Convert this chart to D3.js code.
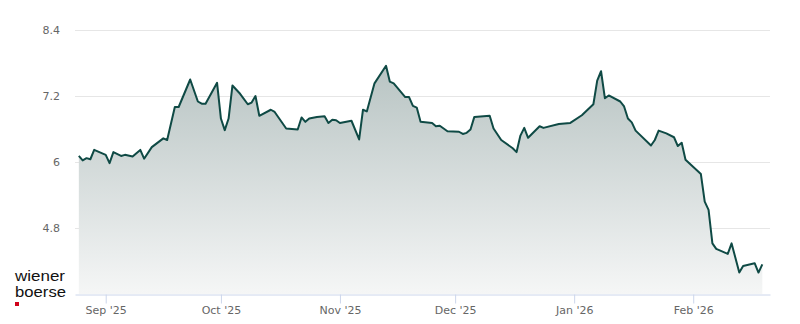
<!DOCTYPE html>
<html>
<head>
<meta charset="utf-8">
<script src="https://cdn.jsdelivr.net/npm/d3@7"></script>
<style>
  body { margin: 0; background: #fff; }
  .tick text { font-family: "DejaVu Sans", sans-serif; }
</style>
</head>
<body>
<div id="chart"></div>
<script>
var dates = [
    "2025-08-25","2025-08-26","2025-08-27","2025-08-28","2025-08-29","2025-09-01","2025-09-02","2025-09-03","2025-09-05","2025-09-06",
    "2025-09-08","2025-09-10","2025-09-11","2025-09-13","2025-09-16","2025-09-17","2025-09-19","2025-09-20","2025-09-23","2025-09-25",
    "2025-09-26","2025-09-27","2025-09-30","2025-10-01","2025-10-02","2025-10-03","2025-10-04","2025-10-06","2025-10-08","2025-10-09",
    "2025-10-10","2025-10-11","2025-10-14","2025-10-15","2025-10-18","2025-10-21","2025-10-22","2025-10-23","2025-10-24","2025-10-26",
    "2025-10-28","2025-10-29","2025-10-30","2025-10-31","2025-11-01","2025-11-04","2025-11-06","2025-11-07","2025-11-08","2025-11-10",
    "2025-11-13","2025-11-14","2025-11-15","2025-11-18","2025-11-19","2025-11-20","2025-11-21","2025-11-22","2025-11-25","2025-11-26",
    "2025-11-27","2025-11-29","2025-12-02","2025-12-03","2025-12-04","2025-12-05","2025-12-06","2025-12-10","2025-12-11","2025-12-13",
    "2025-12-16","2025-12-17","2025-12-18","2025-12-19","2025-12-20","2025-12-23","2025-12-24","2025-12-28","2025-12-31","2026-01-03",
    "2026-01-06","2026-01-07","2026-01-08","2026-01-09","2026-01-10","2026-01-13","2026-01-14","2026-01-15","2026-01-16","2026-01-17",
    "2026-01-21","2026-01-22","2026-01-23","2026-01-25","2026-01-27","2026-01-28","2026-01-29","2026-01-30","2026-02-03","2026-02-04",
    "2026-02-05","2026-02-06","2026-02-07","2026-02-10","2026-02-11","2026-02-13","2026-02-14","2026-02-17","2026-02-18","2026-02-19"
];

var prices = [
    6.11,6.03,6.07,6.05,6.22,6.13,5.98,6.18,6.11,6.13,
    6.10,6.22,6.06,6.27,6.43,6.40,7.00,7.00,7.50,7.10,
    7.06,7.06,7.44,6.79,6.58,6.79,7.39,7.24,7.05,7.08,
    7.20,6.84,6.95,6.91,6.61,6.59,6.81,6.73,6.79,6.82,
    6.83,6.71,6.77,6.76,6.71,6.75,6.41,6.95,6.92,7.43,
    7.75,7.46,7.43,7.18,7.18,7.02,6.99,6.73,6.71,6.65,
    6.66,6.56,6.55,6.51,6.53,6.59,6.82,6.84,6.61,6.40,
    6.25,6.18,6.48,6.62,6.44,6.65,6.62,6.69,6.71,6.85,
    7.05,7.48,7.65,7.16,7.21,7.10,7.01,6.79,6.72,6.57,
    6.30,6.40,6.57,6.52,6.45,6.29,6.35,6.04,5.78,5.28,
    5.13,4.52,4.42,4.33,4.52,3.99,4.11,4.16,3.99,4.14
];

var yTicks = [4.8, 6, 7.2, 8.4];
var yDomain = [3.6, 8.4];
var xDomain = ["2025-08-24", "2026-02-21"];

var svgWidth = 800;
var svgHeight = 324;

var margin = {
    top: 30,
    right: 30,
    bottom: 30,
    left: 75
};

var width = svgWidth - margin.left - margin.right;
var height = svgHeight - margin.top - margin.bottom;

var parseDate = d3.utcParse("%Y-%m-%d");

var data = dates.map(function(d, i) {
    return { date: parseDate(d), price: prices[i] };
});

var svg = d3.select("#chart")
    .append("svg")
    .attr("width", svgWidth)
    .attr("height", svgHeight);

var defs = svg.append("defs");
var grad = defs.append("linearGradient")
    .attr("id", "areaFill")
    .attr("x1", 0).attr("y1", 0)
    .attr("x2", 0).attr("y2", 1);
grad.append("stop").attr("offset", "0%").attr("stop-color", "#b8c4c3");
grad.append("stop").attr("offset", "100%").attr("stop-color", "#f5f6f6");

var chartGroup = svg.append("g")
    .attr("transform", `translate(${margin.left}, ${margin.top})`);

var xTimeScale = d3.scaleUtc().range([0, width]).domain(xDomain.map(parseDate));
var yLinearScale = d3.scaleLinear().range([height, 0]).domain(yDomain);

// gridlines
chartGroup.selectAll(".grid")
    .data(yTicks)
    .enter()
    .append("line")
    .attr("class", "grid")
    .attr("x1", 0)
    .attr("x2", width)
    .attr("y1", d => yLinearScale(d) + 0.5)
    .attr("y2", d => yLinearScale(d) + 0.5)
    .attr("stroke", "#e6e6e6");

var area = d3.area()
    .x(d => xTimeScale(d.date))
    .y0(height)
    .y1(d => yLinearScale(d.price));

var line = d3.line()
    .x(d => xTimeScale(d.date))
    .y(d => yLinearScale(d.price));

chartGroup.append("path")
    .datum(data)
    .attr("d", area)
    .attr("fill", "url(#areaFill)");

chartGroup.append("path")
    .datum(data)
    .attr("d", line)
    .attr("fill", "none")
    .attr("stroke", "#0f4a45")
    .attr("stroke-width", 2)
    .attr("stroke-linejoin", "round");

var bottomAxis = d3.axisBottom(xTimeScale)
    .ticks(d3.utcMonth.every(1))
    .tickFormat(d3.utcFormat("%b '%y"))
    .tickSize(9)
    .tickSizeOuter(0);

var xAxisGroup = chartGroup.append("g")
    .attr("transform", `translate(0,${height + 0.5})`)
    .call(bottomAxis);

xAxisGroup.select(".domain").attr("stroke", "#ccd6eb");
xAxisGroup.selectAll(".tick line").attr("stroke", "#ccd6eb");
xAxisGroup.selectAll(".tick text")
    .attr("fill", "#666666")
    .attr("font-size", 11);

var leftAxis = d3.axisLeft(yLinearScale)
    .tickValues(yTicks)
    .tickFormat(d3.format("~g"))
    .tickSize(0)
    .tickPadding(15);

var yAxisGroup = chartGroup.append("g")
    .call(leftAxis);

yAxisGroup.select(".domain").remove();
yAxisGroup.selectAll(".tick text")
    .attr("fill", "#666666")
    .attr("font-size", 11);

// logo
var logo = svg.append("g")
    .attr("transform", "translate(15, 0)");

logo.append("text")
    .attr("x", 0)
    .attr("y", 281)
    .attr("font-family", "Liberation Sans, Arial, sans-serif")
    .attr("font-size", 15)
    .attr("textLength", 50)
    .attr("lengthAdjust", "spacingAndGlyphs")
    .attr("fill", "#111")
    .text("wiener");

logo.append("text")
    .attr("x", 0)
    .attr("y", 297)
    .attr("font-family", "Liberation Sans, Arial, sans-serif")
    .attr("font-size", 15)
    .attr("textLength", 51)
    .attr("lengthAdjust", "spacingAndGlyphs")
    .attr("fill", "#111")
    .text("boerse");

logo.append("rect")
    .attr("x", 0)
    .attr("y", 302)
    .attr("width", 4)
    .attr("height", 4)
    .attr("fill", "#d0021b");
</script>
</body>
</html>
